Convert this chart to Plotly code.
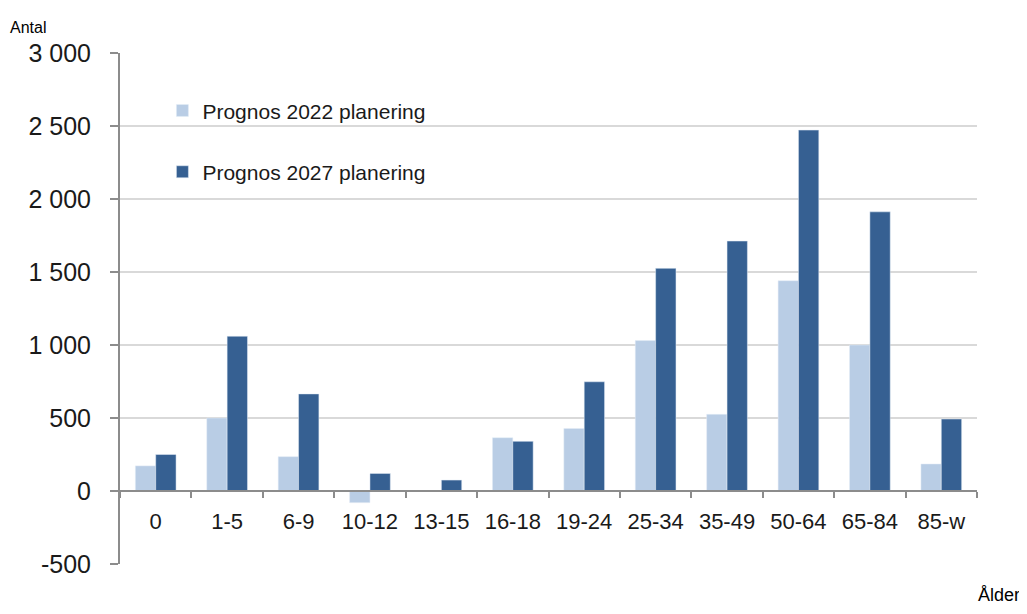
import plotly.graph_objects as go

categories = ["0", "1-5", "6-9", "10-12", "13-15", "16-18", "19-24", "25-34", "35-49", "50-64", "65-84", "85-w"]
prognos_2022 = [172, 500, 235, -80, 0, 365, 428, 1030, 525, 1440, 1000, 185]
prognos_2027 = [250, 1060, 665, 120, 75, 340, 748, 1525, 1712, 2472, 1912, 493]
y_tickvals = [-500, 0, 500, 1000, 1500, 2000, 2500, 3000]
y_ticktext = ["-500", "0", "500", "1 000", "1 500", "2 000", "2 500", "3 000"]

FONT = "Liberation Sans, Arial, sans-serif"

fig = go.Figure()
fig.add_trace(go.Bar(x=categories, y=prognos_2022, name="Prognos 2022 planering",
                     marker=dict(color="#B9CDE5"), legendgroup="a"))
fig.add_trace(go.Bar(x=categories, y=prognos_2027, name="Prognos 2027 planering",
                     marker=dict(color="#366092"), legendgroup="b"))

ymin, ymax = -500, 3000
fig.update_layout(
    width=1019, height=606,
    margin=dict(l=112, r=50, t=45, b=50),
    paper_bgcolor="white", plot_bgcolor="white",
    barmode="group", bargap=0.43, bargroupgap=0,
    font=dict(family=FONT, color="#000000"),
    showlegend=True,
    legend=dict(x=0.0495, y=0.927, xanchor="left", yanchor="top",
                font=dict(size=21, family=FONT, color="#1a1a1a"),
                bgcolor="rgba(0,0,0,0)", tracegroupgap=31,
                traceorder="grouped", itemwidth=30),
    xaxis=dict(
        type="category", anchor="free", position=(0 - ymin) / (ymax - ymin),
        showline=True, linecolor="#8c8c8c", linewidth=2,
        ticks="outside", tickson="boundaries", ticklen=6, tickwidth=2, tickcolor="#8c8c8c",
        tickfont=dict(size=22, family=FONT, color="#1a1a1a"),
        ticklabelstandoff=11, showgrid=False,
    ),
    yaxis=dict(
        range=[ymin, ymax], tickvals=y_tickvals, ticktext=y_ticktext,
        showline=True, linecolor="#8c8c8c", linewidth=2,
        ticks="outside", ticklen=8, tickwidth=2, tickcolor="#8c8c8c",
        tickfont=dict(size=25, family=FONT, color="#1a1a1a"),
        showgrid=True, gridcolor="#d9d9d9", gridwidth=2, zeroline=False,
        ticklabelstandoff=14,
    ),
    annotations=[
        dict(text="Antal", xref="paper", yref="paper", x=-0.131, y=1.049,
             xanchor="left", yanchor="middle", showarrow=False,
             font=dict(size=16, family=FONT, color="#000000")),
        dict(text="Ålder", xref="paper", yref="paper", x=1.052, y=-0.061,
             xanchor="right", yanchor="middle", showarrow=False,
             font=dict(size=18, family=FONT, color="#000000")),
    ],
)

fig.write_html("out.html")
